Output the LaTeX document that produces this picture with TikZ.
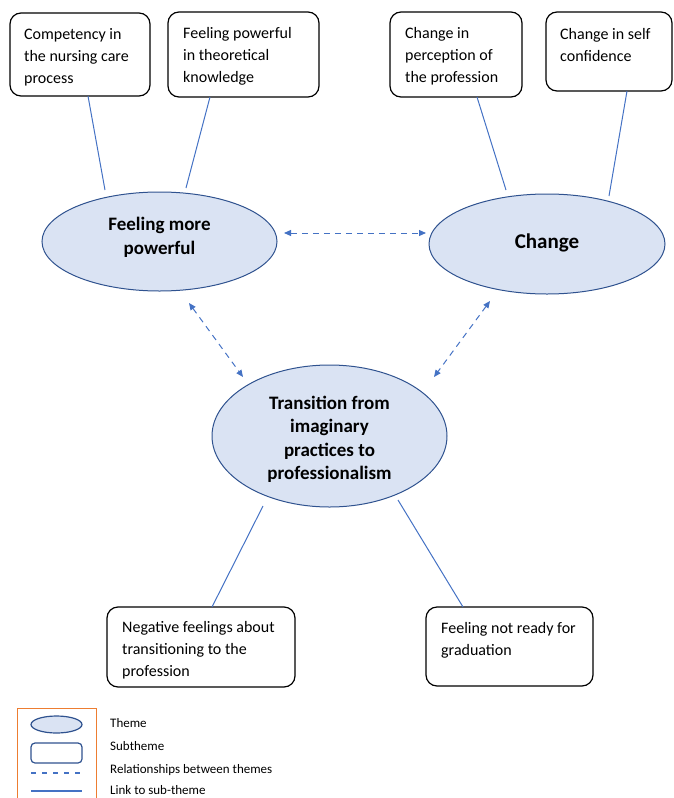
\documentclass[tikz,border=0pt]{standalone}
\usepackage{fontspec}
\setmainfont{Carlito}
\usetikzlibrary{arrows.meta,shapes.geometric,calc}
\definecolor{efill}{HTML}{DAE3F3}
\definecolor{edraw}{HTML}{2F528F}
\definecolor{lblue}{HTML}{4472C4}
\definecolor{lorange}{HTML}{ED7D31}
\begin{document}
\begin{tikzpicture}[x=1pt,y=1pt,
  subbox/.style={draw=black, line width=1.2pt, rounded corners=11pt, inner sep=0pt, outer sep=0pt, anchor=north west},
  subtext/.style={anchor=north west, inner sep=0pt, align=left, font=\fontsize{16}{22}\selectfont},
  theme/.style={ellipse, draw=edraw, fill=efill, line width=1pt, inner sep=0pt, outer sep=0pt},
  themetext/.style={inner sep=0pt, align=center, font=\bfseries\fontsize{19}{23.5}\selectfont},
  link/.style={draw=lblue, line width=1pt},
  rel/.style={draw=lblue, line width=1pt, dash pattern=on 6pt off 5pt, {Triangle[length=7pt,width=6pt]}-{Triangle[length=7pt,width=6pt]}},
  legtext/.style={anchor=base west, inner sep=0pt, font=\fontsize{13}{15}\selectfont}
]
\useasboundingbox (0,0) rectangle (674,-798);

% themes
\node[theme, minimum width=235, minimum height=99] (e1) at (159.5,-241.5) {};
\node[theme, minimum width=236, minimum height=100] (e2) at (547,-244) {};
\node[theme, minimum width=235, minimum height=142] (e3) at (329.5,-436) {};
\node[themetext] (e1t) at (159.5,-237.5) {Feeling more\\powerful};
\node[themetext, font=\bfseries\fontsize{21}{25}\selectfont] (e2t) at (547,-243) {Change};
\node[themetext] (e3t) at (329.5,-439.5) {Transition from\\imaginary\\practices to\\professionalism};

% subthemes
\node[subbox, minimum width=140, minimum height=83] (b1) at (10,-13) {};
\node[subbox, minimum width=151, minimum height=85] (b2) at (168,-12) {};
\node[subbox, minimum width=132, minimum height=85] (b3) at (390,-12) {};
\node[subbox, minimum width=126, minimum height=79] (b4) at (546,-12) {};
\node[subbox, minimum width=188, minimum height=80] (b5) at (107,-607) {};
\node[subbox, minimum width=167, minimum height=79] (b6) at (426,-607) {};

\node[subtext] (t1) at (24,-23.4) {\strut Competency in\\the nursing care\\process};
\node[subtext] (t2) at (183,-22.5) {\strut Feeling powerful\\in theoretical\\knowledge};
\node[subtext] (t3) at (405,-22.5) {\strut Change in\\perception of\\the profession};
\node[subtext] (t4) at (560,-24) {\strut Change in self\\confidence};
\node[subtext] (t5) at (122,-616.6) {\strut Negative feelings about\\transitioning to the\\profession};
\node[subtext] (t6) at (441,-617.6) {\strut Feeling not ready for\\graduation};

% links to sub-themes
\draw[link] ($(b1.south)+(8,0)$) -- ($(e1.north)+(-54.5,2)$);
\draw[link] ($(b2.south)+(-33.5,0)$) -- ($(e1.north)+(26.5,4)$);
\draw[link] ($(b3.south)+(21,0)$) -- ($(e2.north)+(-41,4)$);
\draw[link] ($(b4.south)+(18,0)$) -- ($(e2.north)+(62,-2)$);
\draw[link] ($(e3.south)+(-66.5,1)$) -- ($(b5.north)+(11,0)$);
\draw[link] ($(e3.south)+(68.5,7)$) -- ($(b6.north)+(-46.5,0)$);

% relationships
\draw[rel] ($(e1.east)+(7,8.5)$) -- ($(e2.west)+(-3,11)$);
\draw[rel] ($(e1.south)+(29.5,-12)$) -- ($(e3.north)+(-86.5,-12)$);
\draw[rel] ($(e2.south)+(-57,-7)$) -- ($(e3.north)+(104.5,-12)$);

% legend
\node[draw=lorange, line width=1pt, anchor=north west, minimum width=79, minimum height=100, inner sep=0pt] (lg) at (17,-708) {};
\node[ellipse, draw=edraw, fill=efill, line width=1.2pt, minimum width=51, minimum height=17, inner sep=0pt] (lge) at (56.5,-724.5) {};
\node[draw=edraw, line width=1.2pt, rounded corners=4pt, minimum width=51, minimum height=20, inner sep=0pt] (lgr) at (56.5,-753) {};
\coordinate (ld1) at (31,-773);
\coordinate (ld2) at (82,-773);
\coordinate (ls1) at (31,-791);
\coordinate (ls2) at (82,-791);
\draw[lblue, line width=1.2pt, dash pattern=on 5pt off 6pt] (ld1) -- (ld2);
\draw[lblue, line width=1.5pt] (ls1) -- (ls2);
\node[legtext] (lt1) at (110,-727) {Theme};
\node[legtext] (lt2) at (110,-750) {Subtheme};
\node[legtext] (lt3) at (110,-773) {Relationships between themes};
\node[legtext] (lt4) at (110,-794) {Link to sub-theme};
\end{tikzpicture}
\end{document}
